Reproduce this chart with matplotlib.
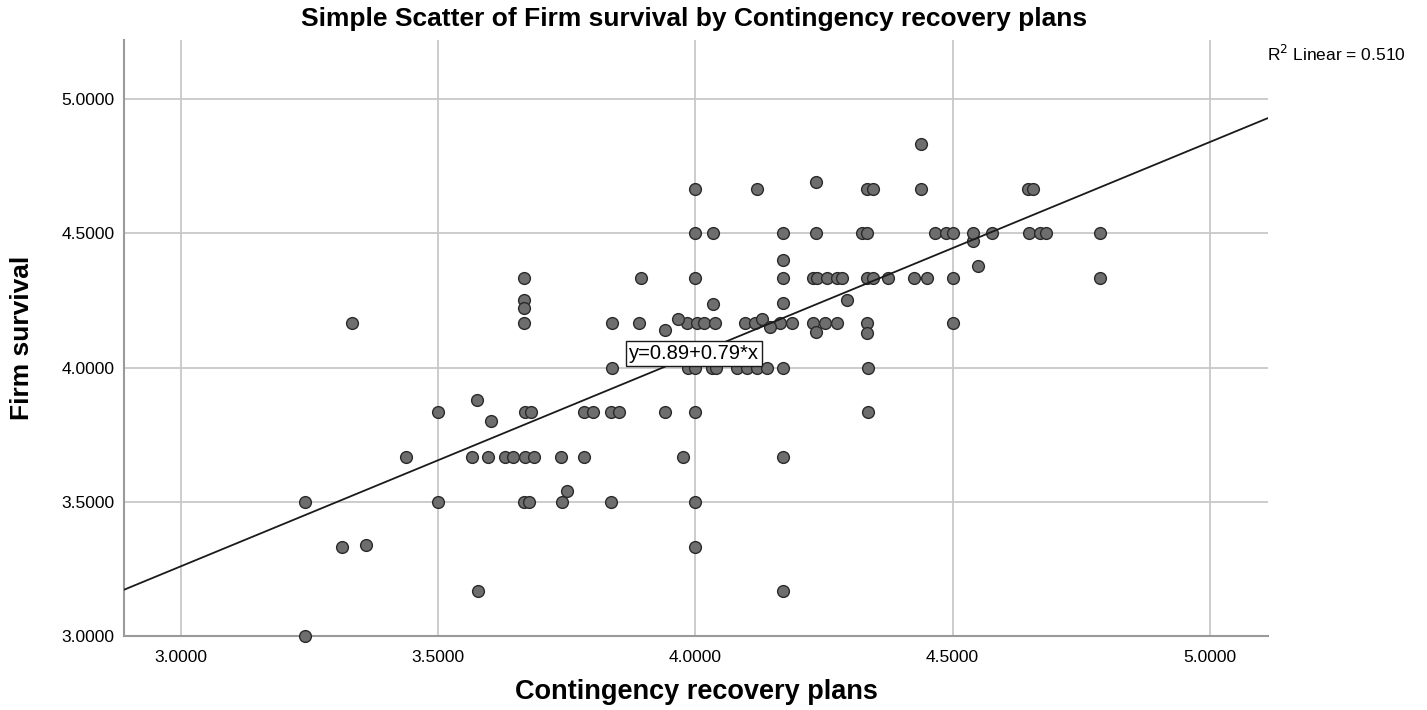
import matplotlib
matplotlib.use("Agg")
import matplotlib.pyplot as plt
import numpy as np

plt.rcParams['font.family'] = ['Liberation Sans', 'DejaVu Sans']

# Data: Contingency recovery plans (x) vs Firm survival (y)
contingency = [
    3.333, 3.24, 3.24, 3.313, 3.36, 3.437, 3.5, 3.5, 3.575, 3.602,
    # y = 3.6667 row
    3.566, 3.597, 3.63, 3.645, 3.668, 3.686, 3.738, 3.783, 3.975, 4.17,
    # y = 3.8333 row
    3.668, 3.68, 3.783, 3.80, 3.836, 3.851, 3.94, 4.0, 4.335,
    # y = 3.5 row
    3.667, 3.676, 3.74, 3.836, 4.0, 3.75,
    # low points
    4.0, 3.577, 4.17,
    # y = 4.0 row
    3.837, 3.985, 4.0, 4.032, 4.04, 4.08, 4.1, 4.12, 4.14, 4.17, 4.335,
    # y = 4.1667 row
    3.667, 3.837, 3.89, 3.983, 4.002, 4.017, 4.037, 4.096, 4.115, 4.164,
    4.187, 4.228, 4.252, 4.275, 4.333, 4.5,
    # scattered around 4.1-4.25
    3.94, 3.966, 4.034, 4.13, 4.145, 4.17, 4.234, 4.333, 4.294, 3.667, 3.667,
    # y = 4.3333 row
    3.667, 3.894, 4.0, 4.17, 4.228, 4.236, 4.255, 4.275, 4.284, 4.333,
    4.345, 4.374, 4.424, 4.45, 4.5, 4.786,
    # around 4.4
    4.17, 4.549, 4.54,
    # y = 4.5 row
    4.0, 4.034, 4.17, 4.234, 4.323, 4.333, 4.465, 4.487, 4.5, 4.54,
    4.577, 4.648, 4.669, 4.681, 4.786,
    # y = 4.6667 row and top
    4.0, 4.12, 4.333, 4.345, 4.438, 4.646, 4.656, 4.234, 4.438,
]
survival = [
    4.1667, 3.5, 3.0, 3.3333, 3.34, 3.6667, 3.8333, 3.5, 3.88, 3.80,
    3.6667, 3.6667, 3.6667, 3.6667, 3.6667, 3.6667, 3.6667, 3.6667, 3.6667, 3.6667,
    3.8333, 3.8333, 3.8333, 3.8333, 3.8333, 3.8333, 3.8333, 3.8333, 3.8333,
    3.5, 3.5, 3.5, 3.5, 3.5, 3.54,
    3.3333, 3.1667, 3.1667,
    4.0, 4.0, 4.0, 4.0, 4.0, 4.0, 4.0, 4.0, 4.0, 4.0, 4.0,
    4.1667, 4.1667, 4.1667, 4.1667, 4.1667, 4.1667, 4.1667, 4.1667, 4.1667, 4.1667,
    4.1667, 4.1667, 4.1667, 4.1667, 4.1667, 4.1667,
    4.14, 4.18, 4.235, 4.18, 4.15, 4.24, 4.134, 4.13, 4.25, 4.25, 4.2222,
    4.3333, 4.3333, 4.3333, 4.3333, 4.3333, 4.3333, 4.3333, 4.3333, 4.3333, 4.3333,
    4.3333, 4.3333, 4.3333, 4.3333, 4.3333, 4.3333,
    4.40, 4.38, 4.47,
    4.5, 4.5, 4.5, 4.5, 4.5, 4.5, 4.5, 4.5, 4.5, 4.5,
    4.5, 4.5, 4.5, 4.5, 4.5,
    4.6667, 4.6667, 4.6667, 4.6667, 4.6667, 4.6667, 4.6667, 4.69, 4.8333,
]

intercept = 0.89
slope = 0.79
r_squared = 0.510

x_ticks = [3.0, 3.5, 4.0, 4.5, 5.0]
y_ticks = [3.0, 3.5, 4.0, 4.5, 5.0]
x_lim = (2.889, 5.113)
y_lim = (3.0, 5.22)

fig = plt.figure(figsize=(14.27, 7.10), dpi=100)
ax = fig.add_axes([124/1427, 1 - 636/710, (1268-124)/1427, (636-40)/710])

ax.set_xlim(*x_lim)
ax.set_ylim(*y_lim)
ax.set_xticks(x_ticks)
ax.set_yticks(y_ticks)
ax.set_xticklabels([f"{v:.4f}" for v in x_ticks], fontsize=12.5)
ax.set_yticklabels([f"{v:.4f}" for v in y_ticks], fontsize=12.5)
ax.tick_params(axis='x', length=0, pad=10)
ax.tick_params(axis='y', length=0, pad=7)
ax.grid(True, color='#c8c8c8', linewidth=1.3, zorder=0)
ax.set_axisbelow(True)
for s in ['top', 'right']:
    ax.spines[s].set_visible(False)
for s in ['left', 'bottom']:
    ax.spines[s].set_color('#9a9a9a')
    ax.spines[s].set_linewidth(1.5)

ax.scatter(contingency, survival, s=72, facecolor='#6e6e6e', edgecolor='#2a2a2a',
           linewidth=1.0, zorder=3, clip_on=False)

xl = np.array(x_lim)
ax.plot(xl, intercept + slope * xl, color='#1a1a1a', linewidth=1.3, zorder=4)

ax.text(3.998, 4.052, f"y={intercept:.2f}+{slope:.2f}*x", fontsize=14.5,
        ha='center', va='center', zorder=5,
        bbox=dict(boxstyle='square,pad=0.15', facecolor='white', edgecolor='#1a1a1a', linewidth=1))

fig.text(1267/1427, 1 - 54/710, f"R$^2$ Linear = {r_squared:.3f}", fontsize=12.5,
         ha='left', va='center')

fig.text(694/1427, 1 - 19/710, "Simple Scatter of Firm survival by Contingency recovery plans",
         fontsize=19, fontweight='bold', ha='center', va='center')
fig.text(696/1427, 1 - 692/710, "Contingency recovery plans", fontsize=19.5,
         fontweight='bold', ha='center', va='center')
fig.text(22/1427, 1 - 338/710, "Firm survival", fontsize=19, fontweight='bold',
         ha='center', va='center', rotation=90)

fig.savefig("out.png", dpi=100)
